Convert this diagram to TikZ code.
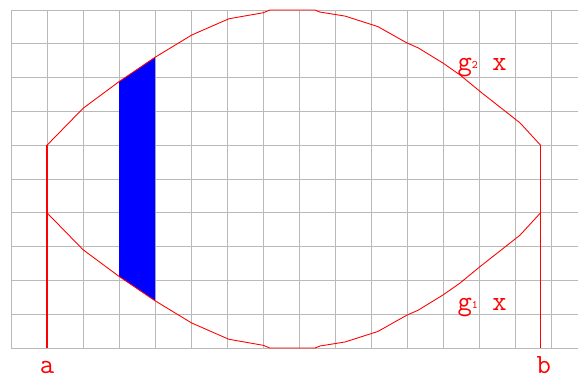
\documentclass[tikz,border=0pt]{standalone}
\usepackage{tikz}

\begin{document}
\begin{tikzpicture}[x=1cm, y=0.939cm,
  gridline/.style={draw=gray!55, line width=0.6pt},
  curve/.style={draw=red, line width=0.7pt},
  lbl/.style={text=red, font=\fontsize{22}{22}\selectfont\ttfamily, inner sep=0pt}
]
\useasboundingbox (-0.3056,-0.888) rectangle (15.75,10.296);

%% Grid
\foreach \i in {0,...,15} \draw[gridline] (\i,0) -- (\i,10);
\foreach \j in {0,...,10} \draw[gridline] (0,\j) -- (15.75,\j);

%% Strip between the curves
\fill[blue] (3,7.88) -- (4,8.60) -- (4,1.40) -- (3,2.12) -- cycle;

%% Ends of the region
\coordinate (topa) at (1,6);
\coordinate (topb) at (14.71,6);
\coordinate (bota) at (1,0);
\coordinate (botb) at (14.71,0);

%% Upper curve
\draw[curve] (topa) -- (2,7.09) -- (3,7.88) -- (4,8.60) -- (5.02,9.26)
  -- (6.05,9.74) -- (7.01,9.92) -- (7.19,10) -- (8.44,10) -- (8.58,9.94)
  -- (9.28,9.82) -- (10.19,9.51) -- (10.99,9.03) -- (11.31,8.88)
  -- (12.0,8.43) -- (12.47,8.08) -- (13.03,7.59) -- (14.14,6.66) -- (topb);

%% Lower curve
\draw[curve] (1,4) -- (2,2.91) -- (3,2.12) -- (4,1.40) -- (5.02,0.74)
  -- (6.05,0.26) -- (7.01,0.08) -- (7.19,0) -- (8.44,0) -- (8.58,0.06)
  -- (9.28,0.18) -- (10.19,0.49) -- (10.99,0.97) -- (11.31,1.12)
  -- (12.0,1.57) -- (12.47,1.92) -- (13.03,2.41) -- (14.14,3.34) -- (14.71,4);

%% Verticals at a and b
\draw[curve, line width=0.9pt] (bota) -- (topa);
\draw[curve] (botb) -- (topb);

%% Labels
\node[lbl, anchor=base] (a) at (1,-0.76) {a};
\node[lbl, anchor=base] (b) at (14.8,-0.76) {b};
\node[lbl, anchor=base west] (g2) at (12.40,8.2)
  {g\raisebox{1.5pt}{\fontsize{9}{9}\selectfont 2} x};
\node[lbl, anchor=base west] (g1) at (12.40,1.10)
  {g\raisebox{1.5pt}{\fontsize{9}{9}\selectfont 1} x};
\end{tikzpicture}
\end{document}
